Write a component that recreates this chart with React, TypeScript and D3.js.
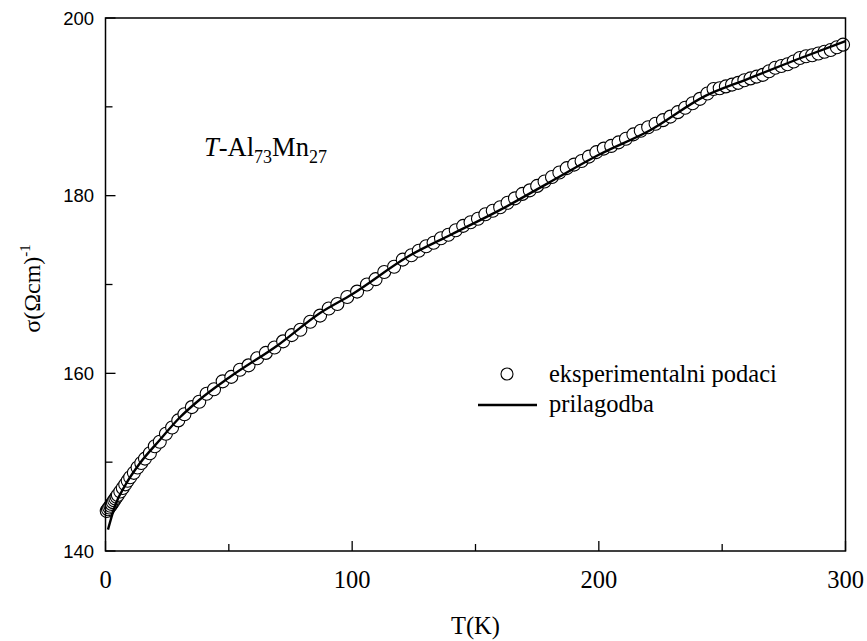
import React from "react";
import * as d3 from "d3";

// Measured conductivity of T-Al73Mn27 vs temperature
const tempK = [
  0.5, 1, 1.5, 2, 2.5, 3, 3.5, 4, 4.5, 5, 6, 7, 8, 9, 10, 11.5, 13, 14.5, 16, 18,
  20, 22, 24.5, 27, 29.5, 32, 35, 38, 41, 44, 47.5, 51, 54.5, 58, 61.5, 65, 68.5,
  72, 75.5, 79, 83, 87, 90.5, 94, 98, 102, 106, 109.5, 113, 117, 120.5, 124, 127,
  130, 133, 136, 139, 142, 145, 148, 151, 154, 157, 160, 163, 166, 169, 172, 175,
  178, 181, 184, 187, 190, 193, 196, 199, 202, 205, 208, 211, 214, 217, 220, 223,
  226, 229, 232, 235, 238, 241, 244, 246.5, 249, 251.5, 254, 256.5, 259, 261.5,
  264, 266.5, 269, 271.5, 274, 276.5, 279, 281.5, 284, 286.5, 289, 291.5, 294,
  296.5, 299,
];
const sigma = [
  144.5, 144.7, 144.9, 145.1, 145.3, 145.5, 145.7, 145.9, 146.1, 146.3, 146.7,
  147.1, 147.5, 147.9, 148.3, 148.8, 149.4, 149.9, 150.4, 151.0, 151.8, 152.3,
  153.2, 153.9, 154.7, 155.4, 156.2, 156.8, 157.7, 158.2, 159.1, 159.6, 160.4,
  160.9, 161.7, 162.3, 162.9, 163.6, 164.3, 164.9, 165.8, 166.5, 167.3, 167.8,
  168.6, 169.2, 170.0, 170.6, 171.4, 172.0, 172.8, 173.3, 173.8, 174.3, 174.7,
  175.2, 175.6, 176.1, 176.6, 177.0, 177.4, 177.9, 178.3, 178.7, 179.2, 179.7,
  180.2, 180.6, 181.1, 181.6, 182.1, 182.6, 183.1, 183.5, 183.9, 184.4, 184.9,
  185.3, 185.6, 186.0, 186.4, 186.9, 187.3, 187.7, 188.1, 188.5, 188.9, 189.4,
  189.9, 190.4, 190.9, 191.5, 192.0, 192.1, 192.3, 192.5, 192.7, 193.0, 193.2,
  193.4, 193.6, 194.0, 194.4, 194.6, 194.8, 195.1, 195.5, 195.7, 195.8, 196.0,
  196.2, 196.4, 196.7, 197.0,
];

// Fitted curve
const fitT = [1, 4, 8, 14, 22, 30, 38, 50, 70, 87, 100, 123, 140, 160, 180, 200, 221, 243, 260, 280, 300];
const fitSigma = [
  142.4, 145.2, 147.4, 149.9, 152.5, 155.0, 157.0, 159.5, 163.2, 166.8, 168.9,
  173.2, 175.6, 178.4, 181.5, 184.6, 187.4, 191.2, 193.1, 195.3, 197.4,
];

const xMajor = [0, 100, 200, 300];
const xMinor = [50, 150, 250];
const yMajor = [140, 160, 180, 200];
const yMinor = [150, 170, 190];

const W = 867;
const H = 641;
const left = 105.5;
const right = 845.5;
const top = 18;
const bottom = 551;

const serif = "'Liberation Serif', 'Times New Roman', serif";
const sans = "'Liberation Sans', Arial, sans-serif";

export default function App() {
  const x = d3.scaleLinear().domain([0, 300]).range([left, right]);
  const y = d3.scaleLinear().domain([140, 200]).range([bottom, top]);

  const points = tempK.map((t, i) => ({ t, s: sigma[i] }));
  const fit = fitT.map((t, i) => ({ t, s: fitSigma[i] }));
  const line = d3
    .line<{ t: number; s: number }>()
    .x((d) => x(d.t))
    .y((d) => y(d.s))
    .curve(d3.curveMonotoneX);

  return (
    <div style={{ position: "absolute", left: 0, top: 0 }}>
      <svg width={W} height={H} style={{ display: "block", background: "#fff" }}>
        {/* data markers */}
        {points.map((p, i) => (
          <circle
            key={i}
            cx={x(p.t)}
            cy={y(p.s)}
            r={6.5}
            fill="#fff"
            stroke="#000"
            strokeWidth={1.1}
          />
        ))}
        {/* fit curve */}
        <path d={line(fit) ?? ""} fill="none" stroke="#000" strokeWidth={2.4} />

        {/* frame */}
        <rect
          x={left}
          y={top}
          width={right - left}
          height={bottom - top}
          fill="none"
          stroke="#000"
          strokeWidth={1.5}
        />

        {/* x ticks */}
        {xMajor.map((v) => (
          <g key={"xM" + v}>
            <line x1={x(v)} x2={x(v)} y1={bottom} y2={bottom - 10} stroke="#000" strokeWidth={1.3} />
            <text
              x={x(v)}
              y={588}
              textAnchor="middle"
              fontFamily={serif}
              fontSize={24.5}
              fill="#000"
            >
              {v}
            </text>
          </g>
        ))}
        {xMinor.map((v) => (
          <line key={"xm" + v} x1={x(v)} x2={x(v)} y1={bottom} y2={bottom - 7} stroke="#000" strokeWidth={1.3} />
        ))}

        {/* y ticks */}
        {yMajor.map((v) => (
          <g key={"yM" + v}>
            <line x1={left} x2={left + 10} y1={y(v)} y2={y(v)} stroke="#000" strokeWidth={1.3} />
            <text
              x={94}
              y={y(v) + 6.5}
              textAnchor="end"
              fontFamily={sans}
              fontSize={18.5}
              fill="#000"
            >
              {v}
            </text>
          </g>
        ))}
        {yMinor.map((v) => (
          <line key={"ym" + v} x1={left} x2={left + 7} y1={y(v)} y2={y(v)} stroke="#000" strokeWidth={1.3} />
        ))}

        {/* axis titles */}
        <text
          x={(left + right) / 2}
          y={634}
          textAnchor="middle"
          fontFamily={serif}
          fontSize={24.5}
          fill="#000"
        >
          T(K)
        </text>
        <text
          transform={`translate(40,${(top + bottom) / 2 + 4}) rotate(-90)`}
          textAnchor="middle"
          fontFamily={serif}
          fontSize={24}
          fill="#000"
        >
          σ(Ωcm)
          <tspan fontSize={15} dy={-10}>
            -1
          </tspan>
        </text>

        {/* sample label */}
        <text x={204} y={156} fontFamily={serif} fontSize={26.5} fill="#000">
          <tspan fontStyle="italic">T</tspan>
          <tspan>-Al</tspan>
          <tspan fontSize={18} dy={7}>73</tspan>
          <tspan dy={-7}>Mn</tspan>
          <tspan fontSize={18} dy={7}>27</tspan>
        </text>

        {/* legend */}
        <circle cx={507} cy={374} r={6} fill="#fff" stroke="#000" strokeWidth={1.1} />
        <text x={549} y={382} fontFamily={serif} fontSize={24.5} fill="#000">
          eksperimentalni podaci
        </text>
        <line x1={478} x2={537} y1={405} y2={405} stroke="#000" strokeWidth={2.4} />
        <text x={549} y={412} fontFamily={serif} fontSize={24.5} fill="#000">
          prilagodba
        </text>
      </svg>
    </div>
  );
}
